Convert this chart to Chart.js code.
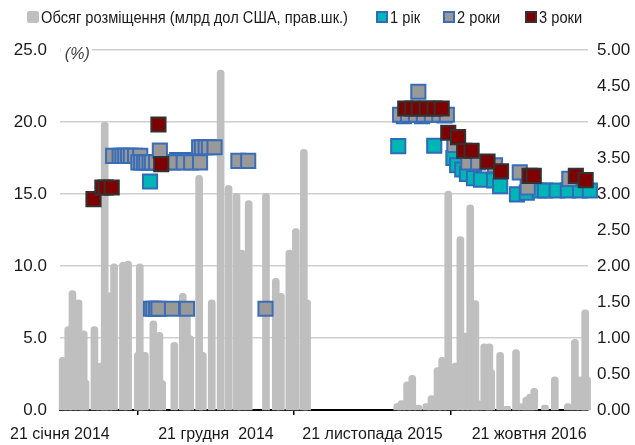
<!DOCTYPE html>
<html><head><meta charset="utf-8">
<script src="https://cdn.jsdelivr.net/npm/chart.js@4.4.0/dist/chart.umd.min.js"></script>
<style>html,body{margin:0;padding:0;background:#fff}#wrap{width:635px;height:445px;position:relative}</style>
</head><body><div id="wrap"><canvas id="c" width="635" height="445"></canvas></div>
<script>
// ---------- DATA ----------
const baseDate = '2014-01-21';
const tickDates = ['2014-01-21','2014-12-21','2015-11-21','2016-10-21'];
const tickLabels = ['21 січня 2014','21 грудня  2014','21 листопада 2015','21 жовтня 2016'];
const axisEndDate = '2017-02-24';

const volumeLabel = 'Обсяг розміщення (млрд дол США, прав.шк.)';
const barDates = ['2014-01-27','2014-02-08','2014-02-17','2014-03-02','2014-03-13','2014-03-17','2014-04-05','2014-04-18','2014-04-27','2014-05-05',
 '2014-05-17','2014-06-05','2014-06-16','2014-07-07','2014-07-11','2014-07-22','2014-08-09','2014-08-22','2014-08-28','2014-09-23',
 '2014-10-11','2014-10-20','2014-10-27','2014-11-15','2014-11-23','2014-12-12','2014-12-31','2015-01-17','2015-02-03','2015-02-14',
 '2015-03-01','2015-04-07','2015-04-28','2015-05-09','2015-05-27','2015-06-10','2015-06-27','2015-07-04',
 '2016-01-13','2016-01-22','2016-02-03','2016-02-14','2016-02-27','2016-03-15','2016-03-26','2016-04-08','2016-04-18','2016-05-01',
 '2016-05-16','2016-05-27','2016-06-06','2016-06-17','2016-06-28','2016-07-04','2016-07-17','2016-07-28','2016-08-01','2016-08-20',
 '2016-09-04','2016-09-23','2016-10-06','2016-10-15','2016-10-23','2016-11-01','2016-11-24','2016-12-15','2017-01-12','2017-01-27',
 '2017-02-08','2017-02-18','2017-02-22'];
const barValues = [0.73,1.16,1.66,1.53,1.10,0.42,1.16,0.65,4.00,1.63,
 2.03,2.05,2.07,0.80,2.03,0.80,1.24,1.08,0.41,0.94,
 1.62,1.45,1.03,3.26,0.80,1.53,4.72,3.12,3.01,2.22,
 2.91,3.01,1.83,1.62,2.22,2.52,3.62,1.53,
 0.09,0.13,0.39,0.48,0.07,0.09,0.20,0.59,0.73,3.04,
 0.65,2.41,1.07,2.85,1.52,0.13,0.92,0.92,0.56,0.80,
 0.05,0.84,0.09,0.18,0.22,0.30,0.07,0.46,0.09,0.98,
 0.46,1.39,0.46];

const y1Label = '1 рік';
const y1Dates = ['2014-08-02','2014-09-29','2014-10-12','2016-01-15','2016-01-27','2016-03-06','2016-04-01','2016-04-23',
 '2016-05-12','2016-05-20','2016-05-31','2016-06-10','2016-06-25','2016-07-10','2016-08-07','2016-08-20','2016-09-25',
 '2016-10-16','2016-11-13','2016-11-24','2016-12-19','2017-01-12','2017-02-07','2017-02-28'];
const y1Values = [15.87,17.36,17.36,18.32,20.4,20.4,18.35,20.45,
 17.5,17.0,16.7,16.4,16.1,16.0,15.95,15.55,14.97,
 15.1,15.24,15.24,15.24,15.24,15.24,15.24];

const y2Label = '2 роки';
const y2Dates = ['2014-05-15','2014-05-29','2014-06-04','2014-06-10','2014-06-16','2014-06-22','2014-07-01','2014-07-12',
 '2014-07-08','2014-07-14','2014-07-20','2014-07-25','2014-08-01','2014-08-06','2014-08-15','2014-09-08','2014-09-21','2014-10-13','2014-10-29','2014-11-17',
 '2014-08-23',
 '2014-11-15','2014-11-21','2014-11-29','2014-12-06','2014-12-18',
 '2015-02-07','2015-02-28',
 '2014-08-04','2014-08-09','2014-08-15','2014-08-20','2014-09-18','2014-10-20','2015-04-06',
 '2016-01-19','2016-02-05','2016-02-22','2016-03-10','2016-03-27','2016-04-12','2016-04-28',
 '2016-02-27','2016-05-14','2016-06-13','2016-07-04','2016-08-09','2016-10-01','2016-10-18','2017-01-15'];
const y2Values = [17.65,17.65,17.65,17.65,17.65,17.65,17.65,17.65,
 17.2,17.2,17.2,17.2,17.2,17.2,17.2,17.2,17.2,17.2,17.2,17.2,
 18.02,
 18.25,18.25,18.25,18.25,18.25,
 17.3,17.3,
 7.03,7.03,7.03,7.03,7.03,7.03,7.03,
 20.5,20.5,20.5,20.5,20.5,20.5,20.5,
 22.1,18.4,17.2,17.2,17.0,16.5,15.45,16.05];

const y3Label = '3 роки';
const y3Dates = ['2014-04-03','2014-04-22','2014-04-29','2014-05-12','2014-08-20','2014-08-26',
 '2016-01-30','2016-02-14','2016-02-28','2016-03-16','2016-04-02','2016-04-17',
 '2016-05-01','2016-05-22','2016-06-04','2016-06-20','2016-07-24','2016-08-22','2016-10-22','2016-10-31','2017-01-29','2017-02-19'];
const y3Values = [14.64,15.45,15.45,15.45,19.83,17.07,
 20.94,20.94,20.94,20.94,20.94,20.94,
 19.25,18.95,18.0,18.0,17.26,16.58,16.26,16.26,16.26,15.96];

// ---------- HELPERS ----------
const FONT = '"Liberation Sans", Arial, sans-serif';
const DAY = 86400000;
function dayOf(s){ const p=s.split('-').map(Number), b=baseDate.split('-').map(Number);
  return (Date.UTC(p[0],p[1]-1,p[2]) - Date.UTC(b[0],b[1]-1,b[2]))/DAY; }
const pts = (ds, vs) => ds.map((d,i)=>({x:dayOf(d), y:vs[i]}));

const markerBase = {type:'scatter', yAxisID:'y', pointStyle:'rect', pointRadius:10, pointHoverRadius:10, borderWidth:2, clip:false};

const legendBoxX = [27, 376, 443, 525];
const overlay = {
  id:'overlay',
  beforeDatasetsDraw(chart){
    const ctx=chart.ctx, a=chart.chartArea;
    ctx.save(); ctx.fillStyle='#fff'; ctx.fillRect(a.left+1, a.top-3, 31, 6); ctx.restore();
  },
  afterDraw(chart){
    const ctx=chart.ctx, a=chart.chartArea;
    ctx.save();
    ctx.font = 'italic 16px '+FONT; ctx.fillStyle='#404040'; ctx.textBaseline='middle'; ctx.textAlign='left';
    ctx.fillText('(%)', a.left+5, a.top+5);
    // legend
    ctx.font = '17px '+FONT; ctx.textBaseline='middle';
    const sx = 307 / ctx.measureText(chart.data.datasets[0].label).width;
    const yc = 17;
    chart.data.datasets.forEach((ds,i)=>{
      const x = legendBoxX[i];
      if (ds.type==='bar'){
        ctx.fillStyle=ds.backgroundColor;
        ctx.beginPath(); ctx.roundRect(x, yc-6, 12, 12, 2.5); ctx.fill();
      } else {
        ctx.fillStyle=ds.backgroundColor; ctx.fillRect(x+1, yc-5, 10, 10);
        ctx.strokeStyle=ds.borderColor; ctx.lineWidth=2; ctx.strokeRect(x+1, yc-5, 10, 10);
      }
      ctx.fillStyle='#1a1a1a';
      ctx.save(); ctx.translate(x+14, yc+1); ctx.scale(sx,1);
      ctx.fillText(ds.label, 0, 0); ctx.restore();
    });
    ctx.restore();
  }
};

new Chart(document.getElementById('c'), {
  type:'scatter',
  data:{ datasets:[
    {type:'bar', label:volumeLabel, data:pts(barDates,barValues), yAxisID:'y2', backgroundColor:'#BFBFBF',
     barThickness:7, borderRadius:{topLeft:3.5,topRight:3.5,bottomLeft:0,bottomRight:0}, borderSkipped:'bottom', order:3, clip:false},
    Object.assign({}, markerBase, {label:y1Label, data:pts(y1Dates,y1Values), backgroundColor:'#00B5B5', borderColor:'#2F6BBA', order:2}),
    Object.assign({}, markerBase, {label:y2Label, data:pts(y2Dates,y2Values), backgroundColor:'#999999', borderColor:'#3A6DB8', order:1}),
    Object.assign({}, markerBase, {label:y3Label, data:pts(y3Dates,y3Values), backgroundColor:'#7F0000', borderColor:'#333333', order:0})
  ]},
  options:{
    responsive:false, animation:false, devicePixelRatio:1, events:[],
    layout:{padding:{top:50,left:0,right:0,bottom:0}},
    plugins:{legend:{display:false}, tooltip:{enabled:false}},
    scales:{
      x:{type:'linear', min:0, max:dayOf(axisEndDate), offset:false,
        afterBuildTicks:s=>{ s.ticks = tickDates.map(d=>({value:dayOf(d)})); },
        ticks:{autoSkip:false, maxRotation:0, color:'#1a1a1a', font:{family:FONT,size:16}, padding:10,
          callback:(v,i)=>tickLabels[i]},
        grid:{drawOnChartArea:false, drawTicks:true, tickLength:5, color:'#000', lineWidth:1.5},
        border:{display:true, color:'#000', width:2},
        afterFit:s=>{ s.height=35; }
      },
      y:{position:'left', min:0, max:25,
        ticks:{stepSize:5, callback:v=>v.toFixed(1), color:'#1a1a1a', font:{family:FONT,size:17}, padding:13},
        grid:{color:'#CFCFCF', lineWidth:1.5, drawTicks:false}, border:{display:false},
        afterFit:s=>{ s.width=58; }
      },
      y2:{position:'right', min:0, max:5,
        ticks:{stepSize:0.5, callback:v=>v.toFixed(2), color:'#1a1a1a', font:{family:FONT,size:17}, padding:9},
        grid:{display:false, drawTicks:false}, border:{display:false},
        afterFit:s=>{ s.width=47; }
      }
    }
  },
  plugins:[overlay]
});
</script></body></html>
